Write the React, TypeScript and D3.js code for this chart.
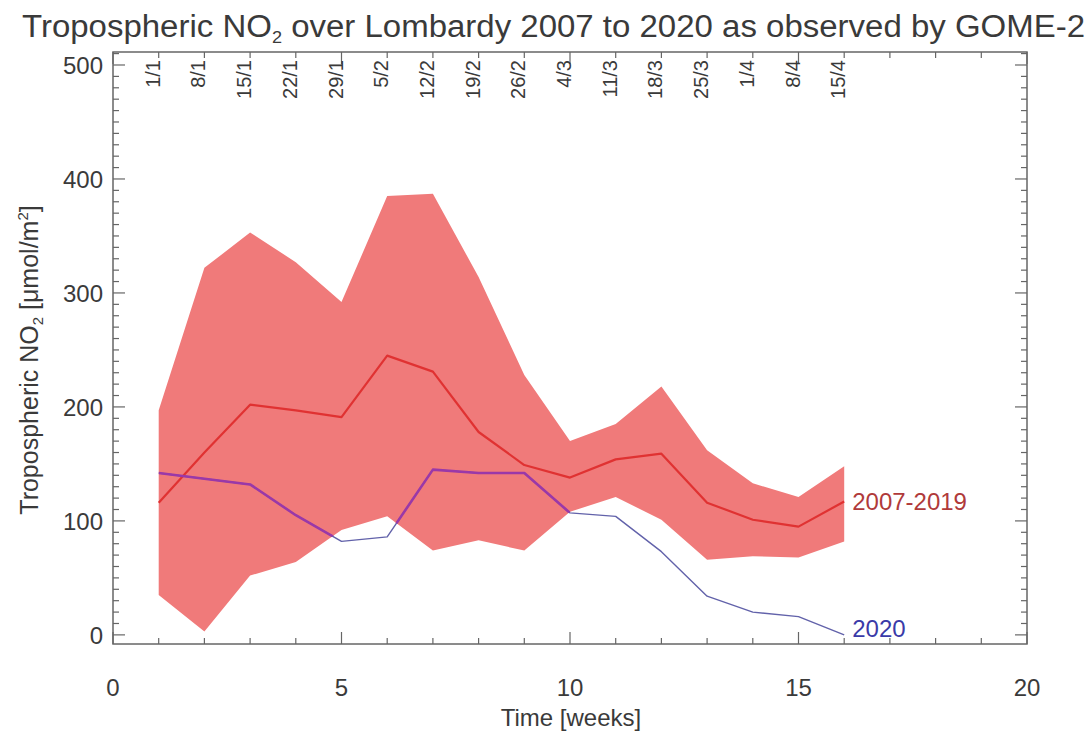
import * as d3 from "d3";
import React from "react";

// weeks 1..16 of each year
const weeks = d3.range(1, 17);
const dateLabels = ["1/1", "8/1", "15/1", "22/1", "29/1", "5/2", "12/2", "19/2", "26/2", "4/3", "11/3", "18/3", "25/3", "1/4", "8/4", "15/4"];

// 2007-2019 climatology
const bandMax = [197, 322, 353, 327, 292, 385, 387, 314, 228, 170, 185, 218, 162, 133, 121, 148];
const bandMin = [35, 3, 52, 64, 92, 104, 74, 83, 74, 108, 121, 101, 66, 69, 68, 82];
const meanValues = [116, 160, 202, 197, 191, 245, 231, 178, 149, 138, 154, 159, 116, 101, 95, 117];

// 2020
const values2020 = [142, 137, 132, 105, 82, 86, 145, 142, 142, 107, 104, 73, 34, 20, 16, 0];

const yTickValues = [0, 100, 200, 300, 400, 500];
const xTickValues = [0, 5, 10, 15, 20];

const font = "'Liberation Sans', Arial, sans-serif";

export default function App() {
  const svgWidth = 1088;
  const svgHeight = 735;
  const margin = { top: 52, right: 61, bottom: 91, left: 113 };
  const w = svgWidth - margin.left - margin.right;
  const h = svgHeight - margin.top - margin.bottom;

  const x = d3.scaleLinear().domain([0, 20]).range([0, w]);
  const y = d3.scaleLinear().domain([-8, 511.4]).range([h, 0]);

  const area = d3.area<number>()
    .x((d, i) => x(weeks[i]))
    .y0((d, i) => y(bandMin[i]))
    .y1((d) => y(d));

  const line = d3.line<number>()
    .x((d, i) => x(weeks[i]))
    .y((d) => y(d));

  const axisColor = "#666";
  const textColor = "#3a3a3a";

  const xMinor = d3.range(0, 21);
  const yMinor = d3.range(0, 511, 10);

  const xTicks = xMinor.map((v) => {
    const len = v % 5 === 0 ? 12 : 6;
    return (
      <g key={"xt" + v}>
        <line x1={x(v)} x2={x(v)} y1={h} y2={h - len} stroke={axisColor} strokeWidth={1.2} />
        <line x1={x(v)} x2={x(v)} y1={0} y2={len} stroke={axisColor} strokeWidth={1.2} />
      </g>
    );
  });

  const yTicks = yMinor.map((v) => {
    const len = v % 100 === 0 ? 12 : 6;
    return (
      <g key={"yt" + v}>
        <line x1={0} x2={len} y1={y(v)} y2={y(v)} stroke={axisColor} strokeWidth={1.2} />
        <line x1={w} x2={w - len} y1={y(v)} y2={y(v)} stroke={axisColor} strokeWidth={1.2} />
      </g>
    );
  });

  const transform = "translate(" + margin.left + "," + margin.top + ")";
  const bandPath = area(bandMax) || "";
  const path2020 = line(values2020) || "";

  return (
    <div style={{ position: "absolute", left: 0, top: 0 }}>
      <svg width={svgWidth} height={svgHeight} style={{ display: "block", background: "#fff" }} fontFamily={font}>
        <defs>
          <clipPath id="bandClip">
            <path d={bandPath} transform={transform} />
          </clipPath>
        </defs>
        <text x={22} y={37} fontSize={31} fill={textColor} textLength={1063} lengthAdjust="spacingAndGlyphs">
          Tropospheric NO<tspan fontSize={17} dy={6}>2</tspan><tspan dy={-6}> over Lombardy 2007 to 2020 as observed by GOME-2</tspan>
        </text>

        <g transform={transform}>
          <path d={bandPath} fill="#f07a7a" />
          <path d={line(meanValues) || ""} fill="none" stroke="#e03232" strokeWidth={2.2} strokeLinejoin="round" />
          <path d={path2020} fill="none" stroke="#6262aa" strokeWidth={1.4} strokeLinejoin="round" />
        </g>
        <g clipPath="url(#bandClip)">
          <path d={path2020} transform={transform} fill="none" stroke="#9a38a8" strokeWidth={2.6} strokeLinejoin="round" />
        </g>

        <g transform={transform}>
          {xTicks}
          {yTicks}
          <rect x={0} y={0} width={w} height={h} fill="none" stroke={axisColor} strokeWidth={1.5} />

          {yTickValues.map((v) => (
            <text key={"yl" + v} x={-10} y={y(v)} dy="0.36em" textAnchor="end" fontSize={24} fill={textColor}>{v}</text>
          ))}
          {xTickValues.map((v) => (
            <text key={"xl" + v} x={x(v)} y={h + 52} textAnchor="middle" fontSize={24} fill={textColor}>{v}</text>
          ))}

          {dateLabels.map((lab, i) => (
            <text key={"d" + i} transform={"translate(" + (x(weeks[i]) + 1) + ",8) rotate(-90)"} textAnchor="end" fontSize={20} fill={textColor}>{lab}</text>
          ))}

          <text x={x(16) + 8} y={y(meanValues[15])} dy="0.36em" fontSize={24} fill="#b03a3a">2007-2019</text>
          <text x={x(16) + 8} y={y(values2020[15])} dy="0.1em" fontSize={24} fill="#3a3aa8">2020</text>
        </g>

        <text x={571} y={726} textAnchor="middle" fontSize={24} fill={textColor}>Time [weeks]</text>
        <text transform="translate(38,360) rotate(-90)" textAnchor="middle" fontSize={25} fill={textColor}>
          Tropospheric NO<tspan fontSize={15} dy={5}>2</tspan><tspan dy={-5}> [μmol/m</tspan><tspan fontSize={15} dy={-10}>2</tspan><tspan dy={10}>]</tspan>
        </text>
      </svg>
    </div>
  );
}
